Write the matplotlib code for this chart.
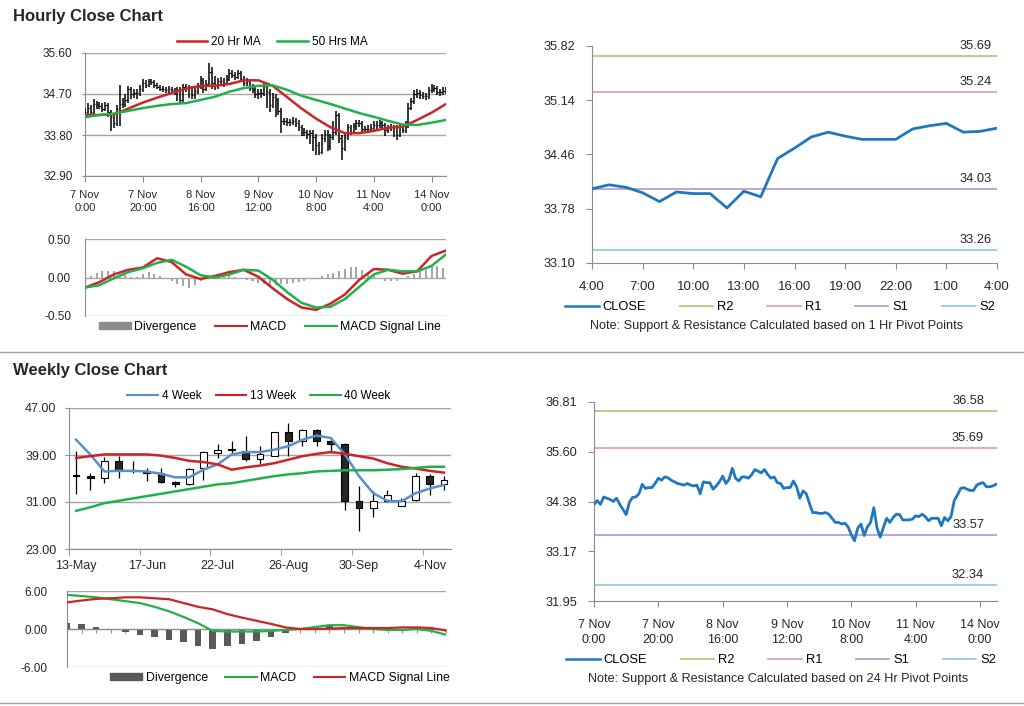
import numpy as np
import matplotlib.pyplot as plt
from matplotlib.lines import Line2D
from matplotlib.patches import Patch, Rectangle

# ---- hourly data (7 Nov 0:00 -> 14 Nov ~5:00, one point per trading hour) ----
hour_ticks = ['7 Nov\n0:00', '7 Nov\n20:00', '8 Nov\n16:00', '9 Nov\n12:00',
              '10 Nov\n8:00', '11 Nov\n4:00', '14 Nov\n0:00']

close_h = [34.31, 34.40, 34.31, 34.49, 34.46, 34.43, 34.38, 34.46, 34.31, 34.19,
           34.06, 34.36, 34.48, 34.49, 34.57, 34.80, 34.70, 34.72, 34.72, 34.82,
           34.95, 34.90, 34.98, 34.96, 34.90, 34.86, 34.82, 34.80, 34.78, 34.82,
           34.78, 34.76, 34.78, 34.57, 34.86, 34.84, 34.84, 34.68, 34.76, 34.86,
           35.00, 34.82, 34.92, 35.19, 34.95, 34.88, 34.98, 34.98, 34.95, 35.03,
           35.16, 35.12, 35.08, 35.16, 35.04, 34.95, 34.98, 34.84, 34.82, 34.70,
           34.72, 34.72, 34.88, 34.74, 34.46, 34.64, 34.57, 34.33, 34.11, 34.11,
           34.09, 34.09, 34.11, 34.07, 33.97, 33.87, 33.87, 33.83, 33.85, 33.76,
           33.57, 33.42, 33.73, 33.83, 33.55, 33.76, 33.87, 34.23, 33.73, 33.51,
           33.75, 33.97, 33.87, 33.99, 34.07, 34.06, 33.93, 33.93, 33.93, 33.95,
           34.03, 34.01, 34.07, 34.01, 33.91, 33.97, 33.97, 33.97, 33.79, 33.99,
           33.91, 34.01, 34.40, 34.54, 34.70, 34.72, 34.68, 34.65, 34.65, 34.78,
           34.82, 34.84, 34.74, 34.74, 34.76, 34.80]

high_h = [34.40, 34.50, 34.45, 34.58, 34.55, 34.52, 34.50, 34.53, 34.50, 34.35,
          34.25, 34.45, 34.90, 34.62, 34.70, 34.88, 34.86, 34.82, 34.80, 34.90,
          35.02, 35.00, 35.04, 35.03, 35.00, 34.94, 34.90, 34.88, 34.85, 34.88,
          34.86, 34.84, 34.85, 34.86, 34.92, 34.92, 34.90, 34.88, 34.84, 34.95,
          35.10, 35.06, 35.00, 35.38, 35.30, 35.10, 35.05, 35.08, 35.05, 35.12,
          35.24, 35.22, 35.18, 35.22, 35.20, 35.10, 35.05, 35.02, 34.92, 34.88,
          34.80, 34.82, 34.95, 34.92, 34.80, 34.72, 34.70, 34.62, 34.40, 34.18,
          34.18, 34.16, 34.20, 34.18, 34.12, 34.02, 33.95, 33.92, 33.92, 33.92,
          33.82, 33.65, 33.82, 33.92, 33.90, 33.82, 34.10, 34.32, 34.28, 33.80,
          33.82, 34.04, 34.02, 34.06, 34.14, 34.12, 34.10, 34.00, 34.02, 34.04,
          34.10, 34.10, 34.12, 34.10, 34.06, 34.02, 34.04, 34.02, 34.02, 34.05,
          34.04, 34.10, 34.50, 34.62, 34.78, 34.80, 34.78, 34.75, 34.72, 34.85,
          34.92, 34.90, 34.88, 34.82, 34.86, 34.86]

low_h = [34.18, 34.24, 34.22, 34.26, 34.38, 34.36, 34.30, 34.32, 34.20, 33.88,
         33.95, 34.00, 34.00, 34.40, 34.42, 34.50, 34.60, 34.62, 34.60, 34.66,
         34.75, 34.84, 34.85, 34.90, 34.84, 34.80, 34.76, 34.74, 34.72, 34.72,
         34.70, 34.68, 34.55, 34.50, 34.52, 34.75, 34.62, 34.58, 34.60, 34.70,
         34.80, 34.72, 34.76, 34.88, 34.80, 34.78, 34.80, 34.88, 34.85, 34.90,
         34.98, 35.05, 35.00, 35.02, 34.96, 34.88, 34.88, 34.76, 34.72, 34.62,
         34.58, 34.62, 34.66, 34.40, 34.30, 34.40, 34.20, 34.24, 33.85, 34.02,
         34.00, 34.00, 34.02, 33.98, 33.88, 33.78, 33.78, 33.72, 33.60, 33.45,
         33.35, 33.36, 33.38, 33.65, 33.45, 33.48, 33.70, 33.80, 33.62, 33.25,
         33.45, 33.70, 33.80, 33.82, 33.92, 33.98, 33.86, 33.85, 33.86, 33.88,
         33.90, 33.94, 33.96, 33.94, 33.78, 33.84, 33.88, 33.76, 33.70, 33.75,
         33.84, 33.85, 33.95, 34.34, 34.48, 34.62, 34.60, 34.58, 34.56, 34.60,
         34.72, 34.75, 34.68, 34.66, 34.68, 34.70]

# moving averages / MACD sampled every 5 hours (index 0, 5, ..., 125)
ma20_h = [34.24, 34.24, 34.25, 34.38, 34.51, 34.62, 34.72, 34.82, 34.88, 34.88,
          34.92, 35.00, 35.00, 34.88, 34.63, 34.38, 34.16, 33.97, 33.84, 33.84,
          33.89, 33.96, 33.98, 34.13, 34.29, 34.48]
ma50_h = [34.19, 34.24, 34.27, 34.33, 34.39, 34.44, 34.48, 34.50, 34.57, 34.64,
          34.75, 34.83, 34.88, 34.89, 34.79, 34.66, 34.57, 34.48, 34.38, 34.28,
          34.20, 34.11, 34.03, 34.02, 34.07, 34.13]
macd_h = [-0.13, -0.06, 0.04, 0.10, 0.13, 0.25, 0.20, 0.04, -0.02, 0.02,
          0.07, 0.10, 0.01, -0.14, -0.28, -0.39, -0.42, -0.34, -0.22, -0.03,
          0.11, 0.10, 0.05, 0.08, 0.28, 0.35]
signal_h = [-0.13, -0.10, -0.01, 0.07, 0.12, 0.19, 0.23, 0.14, 0.03, 0.00,
            0.04, 0.10, 0.09, -0.03, -0.19, -0.33, -0.39, -0.38, -0.28, -0.12,
            0.04, 0.10, 0.08, 0.08, 0.15, 0.30]
# divergence every 2 hours (index 0, 2, ..., 124)
div_h = [0.00, 0.02, 0.06, 0.08, 0.09, 0.08, 0.05, 0.03, 0.01, 0.01,
         0.04, 0.07, 0.05, 0.02, -0.02, -0.05, -0.08, -0.11, -0.13, -0.10,
         -0.05, -0.01, 0.02, 0.04, 0.05, 0.03, 0.01, -0.01, -0.03, -0.05,
         -0.07, -0.09, -0.10, -0.10, -0.09, -0.08, -0.07, -0.06, -0.04, -0.02,
         0.00, 0.02, 0.04, 0.06, 0.08, 0.11, 0.14, 0.13, 0.10, 0.06,
         0.02, -0.02, -0.04, -0.05, -0.04, -0.02, 0.02, 0.05, 0.08, 0.10,
         0.13, 0.15, 0.12]

# last 24 hours, 1 Hr pivots
hours_1h = ['4:00', '7:00', '10:00', '13:00', '16:00', '19:00', '22:00', '1:00', '4:00']
close_1h = [34.03, 34.08, 34.05, 33.98, 33.87, 33.99, 33.97, 33.97, 33.79, 34.00,
            33.93, 34.41, 34.54, 34.68, 34.74, 34.69, 34.65, 34.65, 34.65, 34.78,
            34.82, 34.85, 34.74, 34.75, 34.79]
levels_1h = {'R2': 35.69, 'R1': 35.24, 'S1': 34.03, 'S2': 33.26}
levels_24h = {'R2': 36.58, 'R1': 35.69, 'S1': 33.57, 'S2': 32.34}

# ---- weekly data ----
week_ticks = ['13-May', '17-Jun', '22-Jul', '26-Aug', '30-Sep', '4-Nov']
w_open = [35.6, 35.4, 35.1, 37.9, 36.4, 36.2, 35.9, 34.4, 34.0, 36.8, 39.3, 40.0, 39.7, 38.4,
          38.9, 42.9, 41.4, 43.3, 41.4, 40.8, 31.2, 29.9, 31.1, 30.3, 31.4, 35.5, 34.1]
w_close = [35.4, 35.1, 37.9, 36.5, 36.2, 36.0, 34.4, 34.0, 36.7, 39.5, 39.9, 39.8, 38.4, 39.2,
           42.9, 41.4, 43.3, 41.3, 40.8, 31.1, 29.9, 31.2, 32.2, 31.2, 35.5, 34.1, 34.8]
w_high = [39.6, 35.9, 38.7, 38.8, 37.9, 36.8, 36.8, 34.6, 36.8, 39.7, 40.9, 41.4, 42.3, 40.6,
          43.0, 44.4, 43.5, 43.5, 41.6, 41.0, 33.7, 32.9, 33.1, 31.6, 35.9, 35.7, 35.4]
w_low = [32.4, 33.1, 34.3, 35.1, 35.9, 34.5, 34.2, 33.5, 33.9, 34.8, 38.5, 39.3, 37.9, 37.4,
         38.8, 38.8, 40.5, 40.6, 39.3, 29.7, 26.0, 28.4, 31.0, 30.3, 31.2, 32.2, 33.1]
ma4_w = [41.6, 39.1, 36.2, 36.3, 36.3, 36.2, 35.8, 35.2, 35.2, 36.5, 37.4, 39.1, 39.5, 39.5,
         39.9, 40.5, 41.6, 42.3, 41.9, 39.1, 35.4, 32.5, 31.2, 31.1, 32.5, 33.3, 33.9]
ma13_w = [38.5, 38.8, 39.1, 39.1, 39.1, 39.1, 38.9, 38.5, 38.0, 37.8, 37.4, 36.5, 36.9, 37.2,
          37.6, 38.2, 38.8, 39.2, 39.5, 39.2, 38.8, 38.4, 37.6, 37.0, 36.7, 36.3, 36.0]
ma40_w = [29.5, 30.1, 30.8, 31.2, 31.6, 32.0, 32.4, 32.8, 33.2, 33.6, 34.0, 34.2, 34.6, 35.0,
          35.4, 35.7, 35.9, 36.2, 36.3, 36.4, 36.4, 36.4, 36.5, 36.6, 36.8, 37.0, 37.0]
macd_w = [5.4, 5.2, 5.0, 4.7, 4.4, 4.1, 3.5, 2.8, 1.9, 0.9, -0.3, -0.4, -0.4, -0.4,
          -0.3, -0.15, 0.0, 0.3, 0.6, 0.6, 0.3, 0.0, -0.15, -0.15, 0.0, -0.3, -0.9]
signal_w = [4.2, 4.5, 4.75, 4.85, 5.0, 5.0, 4.85, 4.7, 4.1, 3.5, 3.1, 2.35, 1.8, 1.3,
            0.8, 0.25, 0.0, 0.0, 0.05, 0.15, 0.15, 0.15, 0.15, 0.25, 0.25, 0.15, -0.25]
div_w = [1.0, 0.8, 0.3, -0.1, -0.5, -0.9, -1.25, -1.7, -2.1, -2.7, -3.2, -2.7, -2.35, -1.9,
         -1.25, -0.7, 0.0, 0.1, 0.4, 0.3, 0.1, 0.0, -0.1, -0.1, 0.0, -0.1, -0.3]

# ---- style ----
plt.rcParams['font.family'] = ['Liberation Sans', 'DejaVu Sans']
RED = '#CC2427'
GREEN = '#22B04B'
BLUE = '#1F77C0'
LBLUE = '#5B8FC8'
AXC = '#8C8C8C'
GRID = '#A6A6A6'
TXT = '#262626'
LVL_COL = {'R2': '#B3CB7C', 'R1': '#E9A3A3', 'S1': '#B5A1CB', 'S2': '#8ED0E0'}

W, H = 1024, 706
fig = plt.figure(figsize=(W / 100, H / 100), dpi=100)


def box(left, top, right, bottom):
    return fig.add_axes([left / W, 1 - bottom / H, (right - left) / W, (bottom - top) / H])


def style(ax, grid=True, ylen=3, ypad=7, fs=8.5):
    for s in ['top', 'right']:
        ax.spines[s].set_visible(False)
    ax.spines['left'].set_color(AXC)
    ax.spines['bottom'].set_color(AXC)
    ax.tick_params(labelsize=fs, colors=AXC, labelcolor=TXT)
    ax.tick_params(axis='y', length=ylen, pad=ypad)
    if grid:
        ax.yaxis.grid(True, color=GRID, lw=1)
        ax.set_axisbelow(True)


def flegend(handles, labels, cx, cy, colsp=1.6, fs=8.5):
    fig.legend(handles, labels, loc='center', bbox_to_anchor=(cx / W, 1 - cy / H),
               ncol=len(labels), frameon=False, fontsize=fs, handlelength=2.6,
               handletextpad=0.3, columnspacing=colsp, handleheight=0.5)


fig.text(13 / W, 1 - 16 / H, 'Hourly Close Chart', fontsize=12, fontweight='bold',
         va='center', color=TXT)
fig.text(13 / W, 1 - 370 / H, 'Weekly Close Chart', fontsize=12, fontweight='bold',
         va='center', color=TXT)
fig.add_artist(Line2D([0, 1], [1 - 352 / H] * 2, color='#A0A0A0', lw=1))
fig.add_artist(Line2D([0, 1], [1 - 703 / H] * 2, color='#A0A0A0', lw=1))

idx_h = np.arange(len(close_h))
idx5 = np.arange(0, len(close_h), 5)
idx2 = np.arange(0, len(close_h) - 1, 2)

# ---- hourly bars + MAs ----
axA = box(85, 53, 446, 176)
style(axA, ylen=2, ypad=7)
axA.vlines(idx_h, low_h, high_h, color='black', lw=1.1, zorder=3)
axA.hlines(close_h, idx_h, idx_h + 0.5, color='black', lw=0.9, zorder=3)
axA.plot(idx5, ma20_h, color=RED, lw=1.8, zorder=4)
axA.plot(idx5, ma50_h, color=GREEN, lw=1.8, zorder=4)
axA.set_xlim(0, 125)
axA.set_ylim(32.90, 35.60)
axA.set_yticks([32.90, 33.80, 34.70, 35.60])
axA.set_yticklabels(['%.2f' % v for v in [32.90, 33.80, 34.70, 35.60]])
axA.set_xticks(range(0, 121, 20))
axA.set_xticklabels(hour_ticks, linespacing=1.35, fontsize=8)
axA.tick_params(axis='x', length=4, pad=6)
flegend([Line2D([], [], color=RED, lw=1.8), Line2D([], [], color=GREEN, lw=1.8)],
        ['20 Hr MA', '50 Hrs MA'], 272, 42, colsp=1.4)

# ---- hourly MACD ----
axB = box(85, 239, 446, 316)
style(axB, ylen=0, ypad=10)
axB.spines['bottom'].set_visible(False)
axB.bar(idx2, div_h, width=0.7, color='#A6A6A6', zorder=2)
axB.plot(idx5, macd_h, color=RED, lw=1.8, zorder=3)
axB.plot(idx5, signal_h, color=GREEN, lw=1.8, zorder=3)
axB.set_xlim(0, 125)
axB.set_ylim(-0.5, 0.5)
axB.set_yticks([-0.5, 0, 0.5])
axB.set_yticklabels(['-0.50', '0.00', '0.50'])
axB.set_xticks([])
flegend([Patch(color='#8C8C8C'), Line2D([], [], color=RED, lw=1.5),
         Line2D([], [], color=GREEN, lw=1.5)],
        ['Divergence', 'MACD', 'MACD Signal Line'], 270, 327, colsp=1.5, fs=8.8)


def pivot_panel(ax, xs, close, levels, xmax, label_x):
    style(ax, grid=False, ylen=4, ypad=8, fs=9.2)
    for name, v in levels.items():
        ax.axhline(v, color=LVL_COL[name], lw=1.3, zorder=1)
        ax.annotate('%.2f' % v, (label_x, v), xytext=(0, 3), textcoords='offset points',
                    ha='right', va='bottom', fontsize=9.3, color=TXT)
    ax.plot(xs, close, color=BLUE, lw=2, zorder=3)
    ax.set_xlim(0, xmax)
    ax.tick_params(axis='x', length=4, pad=9)


handles_p = [Line2D([], [], color=BLUE, lw=1.8)] + \
            [Line2D([], [], color=LVL_COL[k], lw=1.3) for k in ['R2', 'R1', 'S1', 'S2']]
labels_p = ['CLOSE', 'R2', 'R1', 'S1', 'S2']

# ---- 1 Hr pivots ----
axC = box(592, 46, 997, 263)
pivot_panel(axC, np.arange(len(close_1h)), close_1h, levels_1h, 24, 23.7)
yt = [33.10, 33.78, 34.46, 35.14, 35.82]
axC.set_ylim(33.10, 35.82)
axC.set_yticks(yt)
axC.set_yticklabels(['%.2f' % v for v in yt])
axC.set_xticks(range(0, 25, 3))
axC.set_xticklabels(hours_1h, fontsize=9.5)
flegend(handles_p, labels_p, 780, 307, colsp=2.6, fs=9.3)
fig.text(777 / W, 1 - 326 / H,
         'Note: Support & Resistance Calculated based on 1 Hr Pivot Points',
         ha='center', va='center', fontsize=9.1, color=TXT)

# ---- 24 Hr pivots ----
axF = box(594, 402, 997, 601)
pivot_panel(axF, idx_h, close_h, levels_24h, 125.3, 121.3)
yt = [31.95, 33.17, 34.38, 35.60, 36.81]
axF.set_ylim(31.95, 36.81)
axF.set_yticks(yt)
axF.set_yticklabels(['%.2f' % v for v in yt])
axF.set_xticks(range(0, 121, 20))
axF.set_xticklabels(hour_ticks, linespacing=1.35, fontsize=9)
flegend(handles_p, labels_p, 781, 660, colsp=2.6, fs=9.3)
fig.text(778 / W, 1 - 679 / H,
         'Note: Support & Resistance Calculated based on 24 Hr Pivot Points',
         ha='center', va='center', fontsize=9.1, color=TXT)

# ---- weekly candles ----
axD = box(69, 408, 451, 549)
style(axD, ylen=3, ypad=6, fs=9)
wi = np.arange(len(w_open))
axD.vlines(wi, w_low, w_high, color='black', lw=0.9, zorder=3)
for i in wi:
    o, c = w_open[i], w_close[i]
    lo, hi = min(o, c), max(o, c)
    fc = 'white' if c > o else '#262626'
    axD.add_patch(Rectangle((i - 0.24, lo), 0.48, max(hi - lo, 0.12), facecolor=fc,
                            edgecolor='black', lw=0.8, zorder=4))
axD.plot(wi, ma4_w, color=LBLUE, lw=1.8, zorder=5)
axD.plot(wi, ma13_w, color=RED, lw=1.8, zorder=5)
axD.plot(wi, ma40_w, color=GREEN, lw=1.8, zorder=5)
axD.set_xlim(-0.5, 26.5)
axD.set_ylim(23, 47)
yt = [23, 31, 39, 47]
axD.set_yticks(yt)
axD.set_yticklabels(['%.2f' % v for v in yt])
axD.set_xticks(np.arange(0, 26, 5))
axD.set_xticklabels(week_ticks)
axD.set_xticks(np.arange(-0.5, 25, 5), minor=True)
axD.tick_params(axis='x', which='major', length=0, pad=8)
axD.tick_params(axis='x', which='minor', length=4, color=AXC)
flegend([Line2D([], [], color=LBLUE, lw=1.5), Line2D([], [], color=RED, lw=1.5),
         Line2D([], [], color=GREEN, lw=1.5)],
        ['4 Week', '13 Week', '40 Week'], 259, 396, colsp=1.2)

# ---- weekly MACD ----
axE = box(67, 591, 446, 667)
style(axE, ylen=0, ypad=14)
axE.spines['bottom'].set_position(('data', 0))
axE.bar(wi, div_w, width=0.45, color='#595959', zorder=2)
axE.plot(wi, macd_w, color=GREEN, lw=1.6, zorder=3)
axE.plot(wi, signal_w, color=RED, lw=1.6, zorder=3)
axE.set_xlim(0, 26)
axE.set_ylim(-6, 6)
axE.set_yticks([-6, 0, 6])
axE.set_yticklabels(['-6.00', '0.00', '6.00'])
axE.set_xticks(wi)
axE.set_xticklabels([])
axE.tick_params(axis='x', length=3)
flegend([Patch(color='#595959'), Line2D([], [], color=GREEN, lw=1.5),
         Line2D([], [], color=RED, lw=1.5)],
        ['Divergence', 'MACD', 'MACD Signal Line'], 280, 678, colsp=1.4, fs=8.8)

fig.savefig('out.png', dpi=100)
